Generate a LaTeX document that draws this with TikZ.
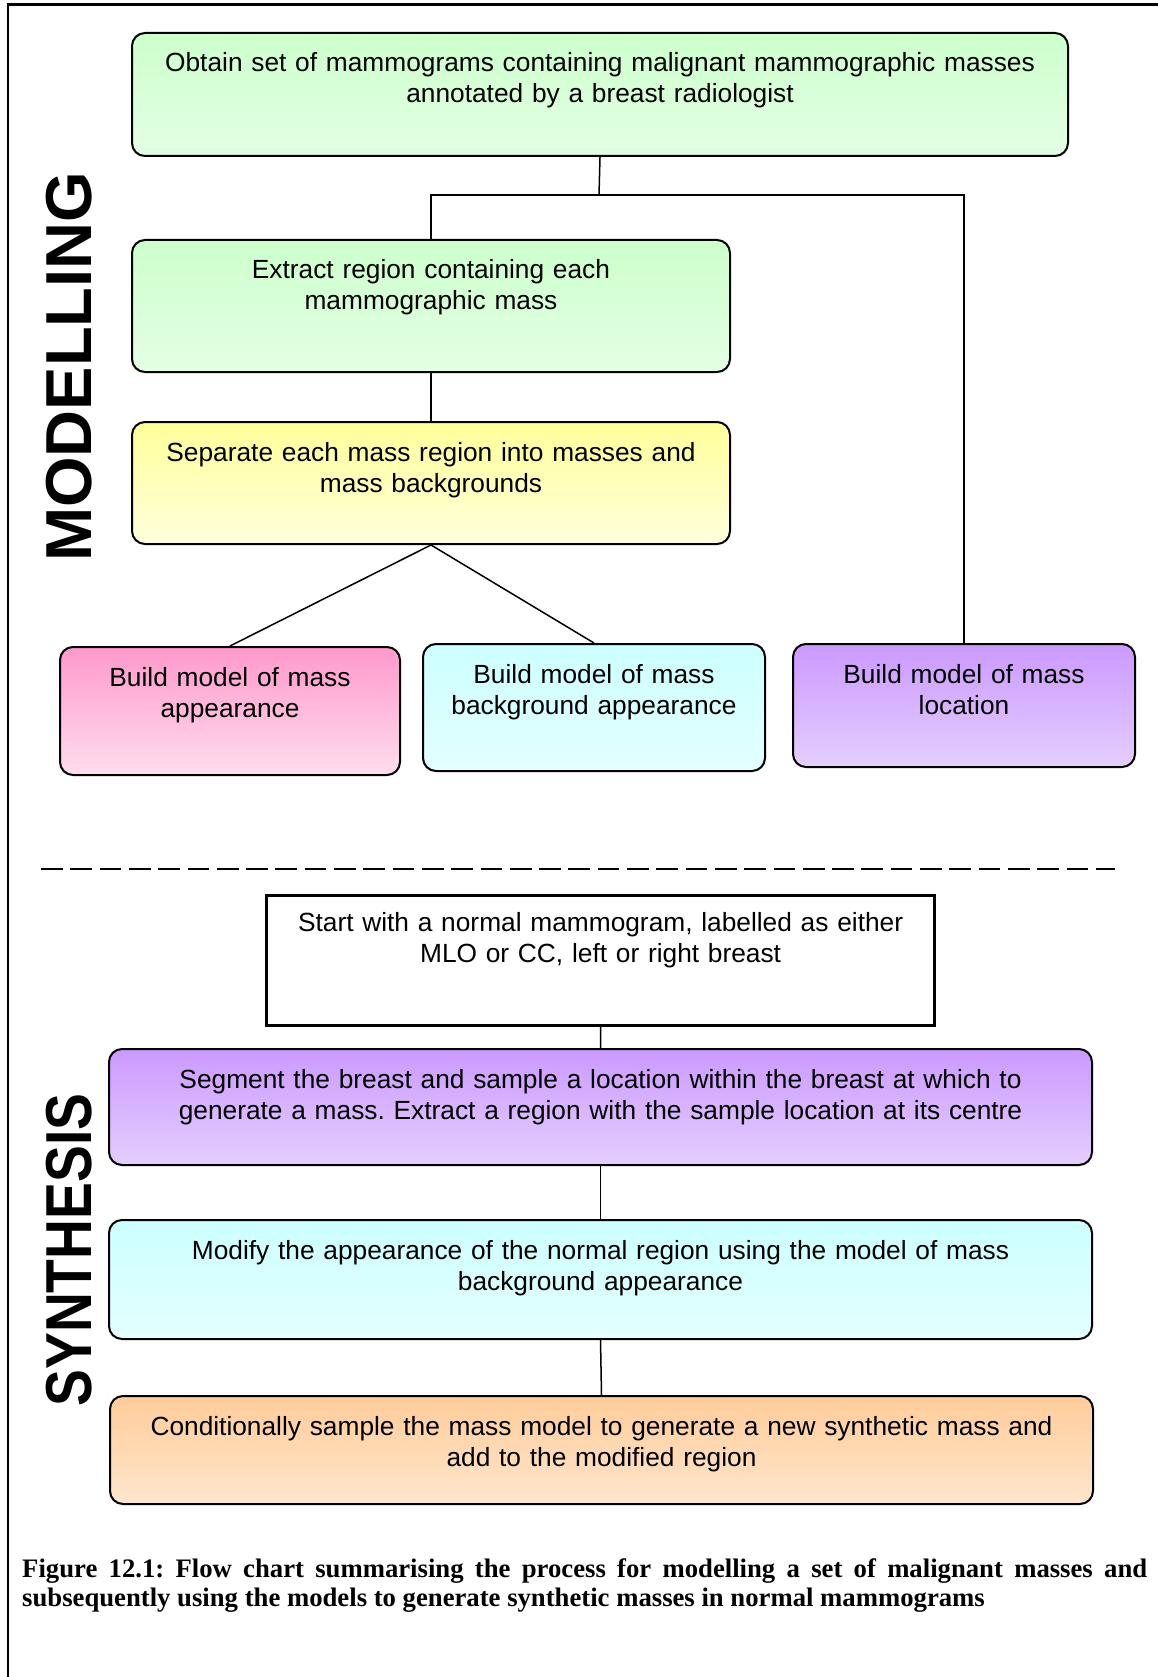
\documentclass[tikz,border=0pt]{standalone}
\usepackage{fontspec}
\setmainfont{Liberation Serif}
\setsansfont{Liberation Sans}
\usepackage{tikz}
\usetikzlibrary{positioning, calc}
\frenchspacing

\definecolor{greentop}{RGB}{204,255,204}
\definecolor{greenbot}{RGB}{228,255,228}
\definecolor{yellowtop}{RGB}{255,255,153}
\definecolor{yellowbot}{RGB}{255,255,221}
\definecolor{pinktop}{RGB}{255,153,204}
\definecolor{pinkbot}{RGB}{255,221,238}
\definecolor{cyantop}{RGB}{204,255,255}
\definecolor{cyanbot}{RGB}{228,255,255}
\definecolor{violettop}{RGB}{204,153,255}
\definecolor{violetbot}{RGB}{228,206,255}
\definecolor{orangetop}{RGB}{255,204,153}
\definecolor{orangebot}{RGB}{255,230,206}

\begin{document}
\begin{tikzpicture}[x=1pt, y=-1pt,
        stage/.style={draw, line width=2pt, rounded corners=13pt, anchor=north west,
            inner sep=0pt, align=center, text height=39pt,
            font=\sffamily\fontsize{26.3}{31}\selectfont},
        tint/.style={top color=#1top, bottom color=#1bot},
        link/.style={line width=1.5pt},
        side/.style={rotate=90, inner sep=0pt, font=\sffamily\bfseries\fontsize{65}{65}\selectfont}]
        \useasboundingbox (0,0) rectangle (1158,1677);
        \draw[line width=2.5pt] (8,1677) -- (8,4.5) -- (1158,4.5);

        % modelling half
        \node[side] (modelling) at (69,367) {MODELLING};
        \node[stage, tint=green, text width=936pt, text depth=84pt] (obtain) at (131,32)
            {Obtain set of mammograms containing malignant mammographic masses\\annotated by a breast radiologist};
        \node[stage, tint=green, text width=598pt, text depth=93pt] (extract) at (131,239)
            {Extract region containing each\\mammographic mass};
        \node[stage, tint=yellow, text width=598pt, text depth=83pt] (separate) at (131,421)
            {Separate each mass region into masses and\\mass backgrounds};
        \node[stage, tint=pink, text width=340pt, text depth=89pt] (massmodel) at (59,646)
            {Build model of mass\\appearance};
        \node[stage, tint=cyan, text width=342pt, text depth=88pt] (bgmodel) at (422,643)
            {Build model of mass\\background appearance};
        \node[stage, tint=violet, text width=342pt, text depth=84pt] (locmodel) at (792,643)
            {Build model of mass\\location};

        \coordinate (split) at (599,195);
        \draw[link] (obtain.south) -- (split);
        \draw[link] (extract.north) |- (split) -| (locmodel.north);
        \draw[link] (extract.south) -- (separate.north);
        \draw[link] (separate.south) -- (massmodel.north);
        \draw[link] (separate.south) -- (bgmodel.north);

        \draw[line width=2.7pt, dash pattern=on 21.7pt off 7.6pt] (41,869) -- (1115,869);

        % synthesis half
        \node[side] (synthesis) at (69,1250) {\scalebox{0.85}[1]{SYNTHESIS}};
        \node[stage, draw, rounded corners=0pt, line width=3.2pt, fill=white,
            text width=668pt, text depth=94pt, text height=36pt] (start) at (265,894)
            {Start with a normal mammogram, labelled as either\\MLO or CC, left or right breast};
        \node[stage, tint=violet, text width=983pt, text depth=77pt] (segment) at (108,1048)
            {Segment the breast and sample a location within the breast at which to\\generate a mass. Extract a region with the sample location at its centre};
        \node[stage, tint=cyan, text width=983pt, text depth=80pt] (modify) at (108,1219)
            {Modify the appearance of the normal region using the model of mass\\background appearance};
        \node[stage, tint=orange, text width=983pt, text depth=69pt] (addmass) at (109,1395)
            {Conditionally sample the mass model to generate a new synthetic mass and\\add to the modified region};

        \draw[link] (start.south) -- (segment.north);
        \draw[link] (segment.south) -- (modify.north);
        \draw[link] (modify.south) -- (addmass.north);

        \node[anchor=base west, text width=1125pt, align=justify, inner sep=0pt,
            font=\bfseries\fontsize{26.7}{29.5}\selectfont] (caption) at (22,1577)
            {Figure 12.1: Flow chart summarising the process for modelling a set of malignant masses and\linebreak
            subsequently using the models to generate synthetic masses in normal mammograms};
\end{tikzpicture}
\end{document}
